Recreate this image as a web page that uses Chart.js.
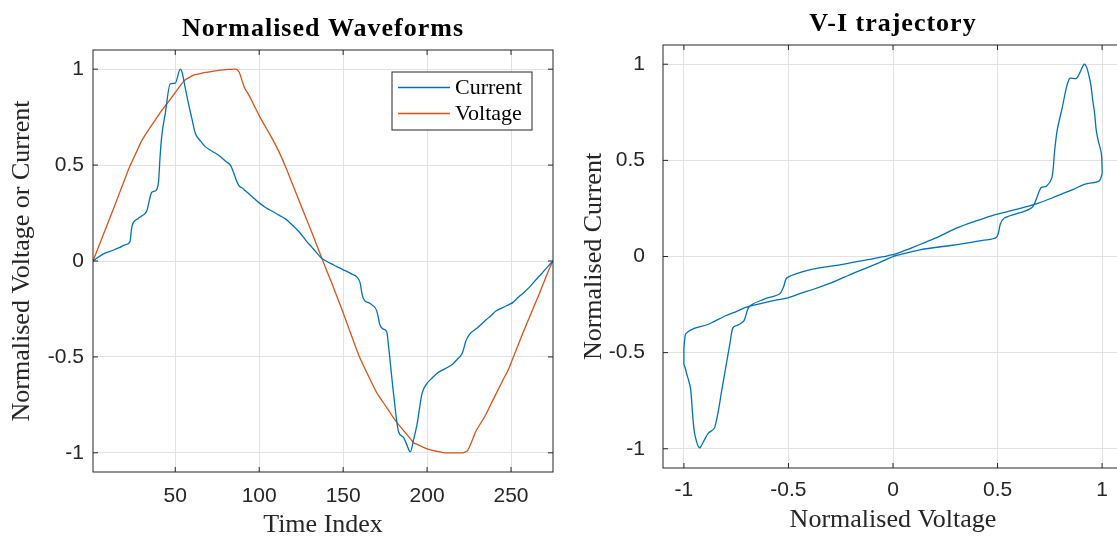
<!DOCTYPE html>
<html>
<head>
<meta charset="utf-8">
<title>Normalised Waveforms / V-I trajectory</title>
<script src="https://cdn.jsdelivr.net/npm/chart.js@4.4.1/dist/chart.umd.min.js"></script>
<style>
  html, body { margin: 0; padding: 0; background: #fff; overflow: hidden; }
  #left { position: absolute; left: 0; top: 0; width: 570px; height: 536px; overflow: hidden; }
  #right { position: absolute; left: 570px; top: 0; width: 547px; height: 536px; overflow: hidden; }
</style>
</head>
<body>
<div id="left"><canvas id="wave-chart" width="570" height="546"></canvas></div>
<div id="right"><canvas id="vi-chart" width="570" height="536"></canvas></div>
<script>
// sample index (denser where the current steps)
const timeIdx = [1, 7, 13, 17, 20, 23, 24, 25, 28, 30, 33, 36, 38, 40, 41, 42, 44, 47, 50, 53,
  54, 56, 58, 60, 62, 65, 68, 72, 76, 80, 83, 85, 86, 88, 90, 91, 94, 97, 100, 104,
  108, 112, 116, 120, 124, 128, 131, 134, 137, 140, 143, 146, 150, 155, 160, 161, 162, 166, 170, 172,
  174, 176, 177, 180, 183, 186, 188, 190, 192, 194, 197, 200, 203, 206, 211, 215, 218, 221, 223, 224,
  226, 229, 231, 235, 238, 241, 245, 249, 251, 254, 257, 261, 264, 267, 269, 272, 275];

const current = [0, 0.036, 0.056, 0.071, 0.084, 0.10, 0.17, 0.20, 0.222, 0.235, 0.26, 0.358, 0.365, 0.41, 0.55, 0.655, 0.767, 0.924, 0.927, 1.0,
  0.985, 0.90, 0.815, 0.738, 0.665, 0.626, 0.595, 0.572, 0.55, 0.52, 0.497, 0.455, 0.43, 0.392, 0.38, 0.372, 0.349, 0.326, 0.303, 0.278,
  0.258, 0.238, 0.217, 0.185, 0.15, 0.105, 0.075, 0.045, 0.016, -0.001, -0.015, -0.028, -0.046, -0.067, -0.11, -0.16, -0.195, -0.222, -0.26, -0.335,
  -0.355, -0.37, -0.44, -0.69, -0.89, -0.92, -0.96, -0.995, -0.93, -0.852, -0.69, -0.638, -0.61, -0.585, -0.56, -0.54, -0.512, -0.48, -0.42, -0.40,
  -0.375, -0.355, -0.34, -0.308, -0.285, -0.261, -0.243, -0.226, -0.217, -0.192, -0.169, -0.136, -0.106, -0.077, -0.058, -0.028, 0];

const voltage = [0, 0.134, 0.268, 0.359, 0.428, 0.495, 0.514, 0.533, 0.589, 0.627, 0.669, 0.708, 0.734, 0.760, 0.773, 0.785, 0.808, 0.843, 0.878, 0.914,
  0.926, 0.945, 0.955, 0.965, 0.971, 0.977, 0.983, 0.989, 0.994, 0.998, 0.999, 1.0, 1.0, 0.985, 0.935, 0.909, 0.862, 0.81, 0.758, 0.696,
  0.634, 0.565, 0.485, 0.397, 0.309, 0.222, 0.157, 0.089, 0.021, -0.046, -0.110, -0.179, -0.27, -0.39, -0.506, -0.524, -0.543, -0.616, -0.687, -0.713,
  -0.739, -0.765, -0.778, -0.818, -0.853, -0.884, -0.905, -0.926, -0.947, -0.956, -0.968, -0.979, -0.987, -0.992, -1.0, -1.0, -1.0, -1.0, -0.995, -0.99,
  -0.954, -0.889, -0.859, -0.80, -0.747, -0.694, -0.624, -0.555, -0.509, -0.443, -0.377, -0.293, -0.23, -0.168, -0.123, -0.057, 0];

const timeTicks = [50, 100, 150, 200, 250];
const unitTicks = [-1, -0.5, 0, 0.5, 1];

const BLUE = '#0072BD';
const ORANGE = '#D95319';
const AXIS = '#262626';
const GRID = '#e2e2e2';
const SERIF = "'Liberation Serif', 'Times New Roman', serif";
const SANS = "'Liberation Sans', Arial, sans-serif";

const tickFont = { family: SANS, size: 21 };
const labelFont = { family: SERIF, size: 26, lineHeight: 1.2 };

// box round the plot with inward tick marks on all four sides (MATLAB style)
const matlabBox = {
    id: 'matlabBox',
    afterDatasetsDraw(chart) {
        const { ctx, chartArea: a, scales } = chart;
        const len = 5;
        ctx.save();
        ctx.strokeStyle = AXIS;
        ctx.lineWidth = 1;
        ctx.beginPath();
        scales.x.ticks.forEach(t => {
            const px = scales.x.getPixelForValue(t.value);
            ctx.moveTo(px, a.bottom); ctx.lineTo(px, a.bottom - len);
            ctx.moveTo(px, a.top); ctx.lineTo(px, a.top + len);
        });
        scales.y.ticks.forEach(t => {
            const py = scales.y.getPixelForValue(t.value);
            ctx.moveTo(a.left, py); ctx.lineTo(a.left + len, py);
            ctx.moveTo(a.right, py); ctx.lineTo(a.right - len, py);
        });
        ctx.stroke();
        ctx.strokeRect(a.left, a.top, a.right - a.left, a.bottom - a.top);
        ctx.restore();
    }
};

// title centred over the plot area, not the whole canvas
const plotTitle = {
    id: 'plotTitle',
    afterDraw(chart, args, opts) {
        const { ctx, chartArea: a } = chart;
        ctx.save();
        ctx.font = `bold ${opts.size}px ${SERIF}`;
        ctx.letterSpacing = '1px';
        ctx.fillStyle = '#000';
        ctx.textAlign = 'center';
        ctx.textBaseline = 'alphabetic';
        ctx.fillText(opts.text, (a.left + a.right) / 2, opts.baseline);
        ctx.restore();
    }
};

// boxed legend inside the top-right corner of the waveform plot
const insetLegend = {
    id: 'insetLegend',
    afterDraw(chart) {
        const { ctx, chartArea: a } = chart;
        const w = 140, h = 58;
        const x0 = a.right - 21 - w, y0 = a.top + 22;
        ctx.save();
        ctx.fillStyle = '#fff';
        ctx.fillRect(x0, y0, w, h);
        ctx.strokeStyle = AXIS;
        ctx.lineWidth = 1;
        ctx.strokeRect(x0, y0, w, h);
        ctx.font = `22px ${SERIF}`;
        ctx.textBaseline = 'middle';
        ctx.textAlign = 'left';
        chart.data.datasets.forEach((ds, i) => {
            const y = y0 + 15.5 + i * 26;
            ctx.strokeStyle = ds.borderColor;
            ctx.lineWidth = 1.3;
            ctx.beginPath();
            ctx.moveTo(x0 + 6, y); ctx.lineTo(x0 + 58, y);
            ctx.stroke();
            ctx.fillStyle = '#000';
            ctx.fillText(ds.label, x0 + 63, y + 1);
        });
        ctx.restore();
    }
};

function fixedTicks(values) {
    return scale => { scale.ticks = values.map(v => ({ value: v })); };
}

function axis(opts) {
    return {
        type: 'linear',
        min: opts.min,
        max: opts.max,
        afterBuildTicks: fixedTicks(opts.ticks),
        afterFit: opts.fit,
        grid: { color: GRID, lineWidth: 1, drawTicks: false },
        border: { display: false },
        ticks: { font: tickFont, color: AXIS, padding: opts.tickPad, maxRotation: 0, autoSkip: false, callback: v => String(v) },
        title: { display: true, text: opts.title, font: labelFont, color: AXIS, padding: { top: opts.titlePad, bottom: opts.titlePad } }
    };
}

Chart.defaults.animation = false;

// left canvas is 10px taller than the page so the x title can sit lower; the div clips it
new Chart(document.getElementById('wave-chart'), {
    type: 'line',
    data: {
        datasets: [
            { label: 'Current', data: timeIdx.map((t, i) => ({ x: t, y: current[i] })), borderColor: BLUE, borderWidth: 1.3, pointRadius: 0, cubicInterpolationMode: 'monotone' },
            { label: 'Voltage', data: timeIdx.map((t, i) => ({ x: t, y: voltage[i] })), borderColor: ORANGE, borderWidth: 1.3, pointRadius: 0, cubicInterpolationMode: 'monotone' }
        ]
    },
    options: {
        responsive: false,
        layout: { padding: { left: 0, right: 17, top: 50, bottom: 0 } },
        plugins: {
            legend: { display: false },
            tooltip: { enabled: false },
            plotTitle: { text: 'Normalised Waveforms', size: 26, baseline: 36 }
        },
        scales: {
            x: axis({ min: 1, max: 275, ticks: timeTicks, fit: s => { s.height = 74; }, tickPad: 12, title: 'Time Index', titlePad: 5 }),
            y: axis({ min: -1.1, max: 1.1, ticks: unitTicks, fit: s => { s.width = 93; }, tickPad: 9, title: 'Normalised Voltage or Current', titlePad: 7 })
        }
    },
    plugins: [matlabBox, plotTitle, insetLegend]
});

new Chart(document.getElementById('vi-chart'), {
    type: 'scatter',
    data: {
        datasets: [
            { label: 'V-I', data: voltage.map((v, i) => ({ x: v, y: current[i] })), showLine: true, borderColor: BLUE, borderWidth: 1.3, pointRadius: 0, tension: 0.3 }
        ]
    },
    options: {
        responsive: false,
        layout: { padding: { left: 0, right: 17, top: 45, bottom: 0 } },
        plugins: {
            legend: { display: false },
            tooltip: { enabled: false },
            plotTitle: { text: 'V-I trajectory', size: 26, baseline: 31 }
        },
        scales: {
            x: axis({ min: -1.1, max: 1.1, ticks: unitTicks, fit: s => { s.height = 68; }, tickPad: 10, title: 'Normalised Voltage', titlePad: 0 }),
            y: axis({ min: -1.1, max: 1.1, ticks: unitTicks, fit: s => { s.width = 93; }, tickPad: 18, title: 'Normalised Current', titlePad: 9 })
        }
    },
    plugins: [matlabBox, plotTitle]
});
</script>
</body>
</html>
